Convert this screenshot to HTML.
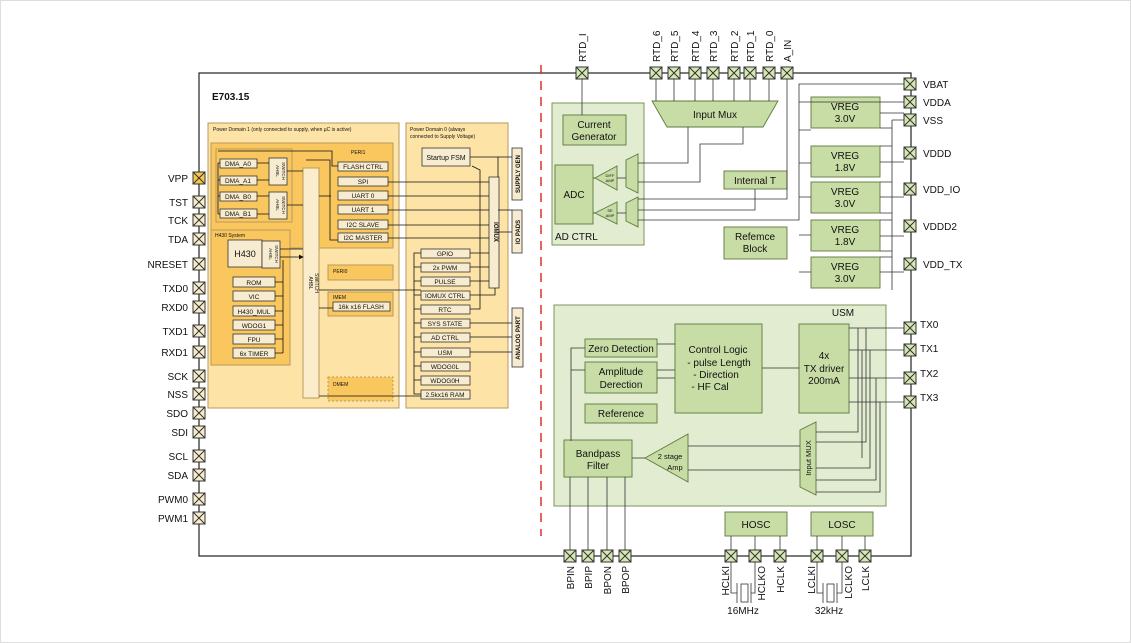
<!DOCTYPE html>
<html><head><meta charset="utf-8"><style>
html,body{margin:0;padding:0;background:#fff}
svg{display:block}
text{font-family:"Liberation Sans",sans-serif;fill:#111}
</style></head><body>
<svg width="1131" height="643" viewBox="0 0 1131 643" xmlns="http://www.w3.org/2000/svg">
<defs>
<g id="pg"><rect x="-6" y="-6" width="12" height="12" fill="#d6e6b4" stroke="#333" stroke-width="1"/><path d="M-6,-6L6,6M6,-6L-6,6" stroke="#333" stroke-width="1"/></g>
<g id="pc"><rect x="-6" y="-6" width="12" height="12" fill="#f7eccc" stroke="#333" stroke-width="1"/><path d="M-6,-6L6,6M6,-6L-6,6" stroke="#333" stroke-width="1"/></g>
<g id="py"><rect x="-6" y="-6" width="12" height="12" fill="#f6c84a" stroke="#333" stroke-width="1"/><path d="M-6,-6L6,6M6,-6L-6,6" stroke="#333" stroke-width="1"/></g>
<marker id="ar" markerWidth="6" markerHeight="6" refX="5" refY="3" orient="auto"><path d="M0,0L6,3L0,6z" fill="#111"/></marker>
</defs>
<rect x="0.5" y="0.5" width="1130" height="642" fill="#fff" stroke="#ddd"/>
<!-- chip outline -->
<rect x="199" y="73" width="712" height="483" fill="#fff" stroke="#222" stroke-width="1.2"/>
<line x1="541" y1="65" x2="541" y2="536" stroke="#e03030" stroke-width="1.5" stroke-dasharray="9,7"/>
<text x="212" y="100" font-size="10" font-weight="bold">E703.15</text>

<!-- Power domains -->
<g stroke="#b89a5e" stroke-width="1">
<rect x="208" y="123" width="191" height="285" fill="#fde3a6"/>
<rect x="406" y="123" width="102" height="285" fill="#fde3a6"/>
<rect x="211" y="143" width="182" height="105" fill="#f9c75e"/>
<rect x="216" y="149" width="76" height="73" fill="#f9c75e"/>
<rect x="211" y="230" width="79" height="135" fill="#f9c75e"/>
<rect x="328" y="265" width="65" height="15" fill="#f9c75e"/>
<rect x="328" y="292" width="65" height="24" fill="#f9c75e"/>
<rect x="328" y="377" width="65" height="24" fill="#f9c75e" stroke-dasharray="2,2"/>
<rect x="303" y="168" width="16" height="230" fill="#fbeccb"/>
</g>
<text x="213" y="131" font-size="5">Power Domain 1 (only connected to supply, when µC is active)</text>
<text x="410" y="131" font-size="5">Power Domain 0 (always</text>
<text x="410" y="138" font-size="5">connected to Supply Voltage)</text>
<text x="351" y="154" font-size="5">PERI1</text>
<text x="215" y="237" font-size="5">H430 System</text>
<text x="333" y="273" font-size="5">PERI0</text>
<text x="333" y="299" font-size="5">IMEM</text>
<text x="333" y="386" font-size="5">DMEM</text>
<text transform="translate(309,283) rotate(90)" font-size="5" text-anchor="middle">AHBL</text>
<text transform="translate(315,283) rotate(90)" font-size="5" text-anchor="middle">SWITCH</text>

<!-- cream blocks -->
<g fill="#f8ecd0" stroke="#333" stroke-width="0.8">
<rect x="220" y="159" width="37" height="9"/><rect x="220" y="176" width="37" height="9"/>
<rect x="220" y="192" width="37" height="9"/><rect x="220" y="209" width="37" height="9"/>
<rect x="269" y="158" width="18" height="27"/><rect x="269" y="192" width="18" height="27"/>
<rect x="228" y="240" width="34" height="27"/><rect x="262" y="241" width="18" height="27"/>
<rect x="233" y="277" width="42" height="10"/><rect x="233" y="291" width="42" height="10"/>
<rect x="233" y="306" width="42" height="10"/><rect x="233" y="320" width="42" height="10"/>
<rect x="233" y="334" width="42" height="10"/><rect x="233" y="348" width="42" height="10"/>
<rect x="338" y="162" width="50" height="9"/><rect x="338" y="177" width="50" height="9"/>
<rect x="338" y="191" width="50" height="9"/><rect x="338" y="205" width="50" height="9"/>
<rect x="338" y="220" width="50" height="9"/><rect x="338" y="233" width="50" height="9"/>
<rect x="333" y="302" width="57" height="9"/>
<rect x="422" y="148" width="48" height="18"/>
<rect x="489" y="177" width="10" height="111"/>
<rect x="421" y="249" width="49" height="9"/><rect x="421" y="263" width="49" height="9"/>
<rect x="421" y="277" width="49" height="9"/><rect x="421" y="291" width="49" height="9"/>
<rect x="421" y="305" width="49" height="9"/><rect x="421" y="319" width="49" height="9"/>
<rect x="421" y="333" width="49" height="9"/><rect x="421" y="348" width="49" height="9"/>
<rect x="421" y="362" width="49" height="9"/><rect x="421" y="376" width="49" height="9"/>
<rect x="421" y="390" width="49" height="9"/>
<rect x="512" y="148" width="10" height="52"/><rect x="512" y="210" width="10" height="43"/>
<rect x="512" y="308" width="11" height="59"/>
</g>
<g font-size="6.5" text-anchor="middle">
<text x="238" y="166">DMA_A0</text><text x="238" y="183">DMA_A1</text>
<text x="238" y="199">DMA_B0</text><text x="238" y="216">DMA_B1</text>
<text x="245" y="257" font-size="9">H430</text>
<text x="254" y="285">ROM</text><text x="254" y="299">VIC</text><text x="254" y="314">H430_MUL</text>
<text x="254" y="328">WDOG1</text><text x="254" y="342">FPU</text><text x="254" y="356">6x TIMER</text>
<text x="363" y="169">FLASH CTRL</text><text x="363" y="184">SPI</text><text x="363" y="198">UART 0</text>
<text x="363" y="212">UART 1</text><text x="363" y="227">I2C SLAVE</text><text x="363" y="240">I2C MASTER</text>
<text x="361" y="309">16k x16 FLASH</text>
<text x="446" y="160" font-size="7">Startup FSM</text>
<text x="445" y="256">GPIO</text><text x="445" y="270">2x PWM</text><text x="445" y="284">PULSE</text>
<text x="445" y="298">IOMUX CTRL</text><text x="445" y="312">RTC</text><text x="445" y="326">SYS STATE</text>
<text x="445" y="340">AD CTRL</text><text x="445" y="355">USM</text><text x="445" y="369">WDOG0L</text>
<text x="445" y="383">WDOG0H</text><text x="445" y="397">2.5kx16 RAM</text>
</g>
<g font-size="4.5" text-anchor="middle">
<text transform="translate(276,171) rotate(90)">AHBL</text><text transform="translate(282,171) rotate(90)">SWITCH</text>
<text transform="translate(276,205) rotate(90)">AHBL</text><text transform="translate(282,205) rotate(90)">SWITCH</text>
<text transform="translate(269,254) rotate(90)">AHBL</text><text transform="translate(275,254) rotate(90)">SWITCH</text>
</g>
<g font-size="6" text-anchor="middle" font-weight="bold">
<text transform="translate(494,232) rotate(90)">IOMUX</text>
<text transform="translate(520,174) rotate(-90)">SUPPLY GEN</text>
<text transform="translate(520,232) rotate(-90)">IO PADS</text>
<text transform="translate(520,338) rotate(-90)">ANALOG PART</text>
</g>
<!-- orange-area wires -->
<g stroke="#111" stroke-width="0.8" fill="none">
<path d="M257,163H269M257,180H269M257,196H269M257,214H269"/>
<path d="M218,163V214M218,163H220M218,180H220M218,196H220M218,214H220"/>
<path d="M287,171H303M287,205H303M280,249H303M280,257H303" marker-end="url(#ar)"/>
<path d="M275,282H283M275,296H283M275,311H283M275,325H283M275,339H283M275,353H283M283,260V353"/>
<path d="M218,151H332V166H338M306,160H330V240H338"/>
<path d="M319,196H331"/>
<path d="M388,182H489M388,196H489M388,210H489M388,225H489M388,238H489"/>
<path d="M470,157H512M470,157H498V177"/>
<path d="M470,253H489M470,267H489M470,281H489M495,288V295H470"/>
<path d="M470,309H480V170L472,166"/>
<path d="M470,323H512M470,337H512M470,352H512"/>
<path d="M319,290H421M319,308H333M319,396H421"/>
<path d="M421,253H414V394H421M414,267H421M414,281H421M414,295H421M414,309H421M414,323H421M414,337H421M414,352H421M414,366H421M414,380H421"/>
<path d="M498,210H512M498,232H512"/>
</g>

<!-- green right side -->
<g stroke="#6f8a4d" stroke-width="0.9">
<rect x="552" y="103" width="92" height="142" fill="#e2ecd1"/>
<rect x="554" y="305" width="332" height="201" fill="#e2ecd1"/>
</g>
<g fill="#c8dca5" stroke="#5d7a3e" stroke-width="0.9">
<rect x="563" y="115" width="63" height="30"/>
<rect x="555" y="165" width="38" height="59"/>
<path d="M617,166L595,178L617,190z"/><path d="M617,202L595,213L617,224z"/>
<path d="M626,160L638,154V193L626,187z"/><path d="M626,203L638,197V227L626,221z"/>
<path d="M652,101H778L763,127H667z"/>
<rect x="724" y="171" width="63" height="18"/>
<rect x="724" y="227" width="63" height="32"/>
<rect x="811" y="97" width="69" height="31"/><rect x="811" y="146" width="69" height="31"/>
<rect x="811" y="182" width="69" height="31"/><rect x="811" y="220" width="69" height="31"/>
<rect x="811" y="257" width="69" height="31"/>
<rect x="585" y="339" width="72" height="18"/><rect x="585" y="362" width="72" height="31"/>
<rect x="585" y="404" width="72" height="19"/>
<rect x="675" y="324" width="87" height="89"/>
<rect x="799" y="324" width="50" height="89"/>
<path d="M800,430L816,422V495L800,487z"/>
<path d="M688,434L645,458L688,482z"/>
<rect x="564" y="440" width="68" height="37"/>
<rect x="725" y="512" width="62" height="24"/><rect x="811" y="512" width="62" height="24"/>
</g>
<g font-size="10" text-anchor="middle">
<text x="594" y="128">Current</text><text x="594" y="140">Generator</text>
<text x="574" y="198">ADC</text>
<text x="555" y="240" text-anchor="start">AD CTRL</text>
<text x="715" y="118">Input Mux</text>
<text x="755" y="184">Internal T</text>
<text x="755" y="240">Refemce</text><text x="755" y="252">Block</text>
<text x="845" y="110">VREG</text><text x="845" y="122">3.0V</text>
<text x="845" y="159">VREG</text><text x="845" y="171">1.8V</text>
<text x="845" y="195">VREG</text><text x="845" y="207">3.0V</text>
<text x="845" y="233">VREG</text><text x="845" y="245">1.8V</text>
<text x="845" y="270">VREG</text><text x="845" y="282">3.0V</text>
<text x="843" y="316">USM</text>
<text x="621" y="352">Zero Detection</text>
<text x="621" y="375">Amplitude</text><text x="621" y="388">Derection</text>
<text x="621" y="417">Reference</text>
<text x="718" y="353">Control Logic</text>
<text x="719" y="366">- pulse Length</text>
<text x="716" y="378">- Direction</text>
<text x="710" y="390">- HF Cal</text>
<text x="824" y="359">4x</text><text x="824" y="372">TX driver</text><text x="824" y="384">200mA</text>
<text x="598" y="457">Bandpass</text><text x="598" y="469">Filter</text>
<text x="756" y="528">HOSC</text><text x="842" y="528">LOSC</text>
</g>
<g font-size="7.5" text-anchor="middle">
<text x="670" y="459">2 stage</text><text x="675" y="470">Amp</text>
<text transform="translate(811,458) rotate(-90)">Input MUX</text>
</g>
<g font-size="4" text-anchor="middle">
<text x="610" y="177">DIFF</text><text x="610" y="182">AMP</text>
<text x="610" y="212">SE</text><text x="610" y="217">AMP</text>
</g>
<!-- green-side wires -->
<g stroke="#333" stroke-width="0.8" fill="none">
<path d="M582,73V115"/>
<path d="M656,73V101M674,73V101M695,73V101M713,73V101M734,73V101M750,73V101M769,73V101"/>
<path d="M787,73V199H638"/>
<path d="M688,127V163H638M743,127V144H700V182H638"/>
<path d="M755,189V210H638M638,220H799V84H904"/>
<path d="M799,102H904M799,130H811M799,163H811M799,197H811M799,235H811M799,272H811"/>
<path d="M880,113H904M880,162H904M880,197H904M880,236H904M880,272H904"/>
<path d="M892,120H904M892,120V290M880,128H892M880,146H892M880,182H892M880,213H892M880,220H892M880,251H892M880,257H892"/>
<path d="M593,178H595M593,213H595M617,178H626M617,213H626"/>
<path d="M657,344H675M657,370H675M657,378H675M762,368H799"/>
<path d="M571,441V348H585M571,370H585"/>
<path d="M849,328H904M849,350H904M849,378H904M849,402H904"/>
<path d="M858,328V432H816M866,328V442H816M870,350V468H816M876,378V480H816M880,402V492H816M862,350V458"/>
<path d="M688,446H800M688,470H800M645,458H632"/>
<path d="M570,477V556M588,477V556M607,477V556M625,477V556"/>
<path d="M731,536V556M755,536V556M780,536V556M817,536V556M842,536V556M865,536V556"/>
<path d="M731,562V593H737M755,562V593H751M817,562V593H823M842,562V593H837"/>
<path d="M737,583V603M751,583V603M823,583V603M837,583V603"/>
</g>
<rect x="741" y="584" width="7" height="18" fill="#fff" stroke="#333" stroke-width="0.8"/>
<rect x="827" y="584" width="7" height="18" fill="#fff" stroke="#333" stroke-width="0.8"/>
<text x="743" y="614" font-size="10" text-anchor="middle">16MHz</text>
<text x="829" y="614" font-size="10" text-anchor="middle">32kHz</text>

<!-- pins -->
<use href="#py" x="199" y="178"/>
<use href="#pc" x="199" y="202"/><use href="#pc" x="199" y="220"/><use href="#pc" x="199" y="239"/>
<use href="#pc" x="199" y="264"/><use href="#pc" x="199" y="288"/><use href="#pc" x="199" y="307"/>
<use href="#pc" x="199" y="331"/><use href="#pc" x="199" y="352"/><use href="#pc" x="199" y="376"/>
<use href="#pc" x="199" y="394"/><use href="#pc" x="199" y="413"/><use href="#pc" x="199" y="432"/>
<use href="#pc" x="199" y="456"/><use href="#pc" x="199" y="475"/><use href="#pc" x="199" y="499"/>
<use href="#pc" x="199" y="518"/>
<g font-size="10" text-anchor="end">
<text x="188" y="182">VPP</text><text x="188" y="206">TST</text><text x="188" y="224">TCK</text>
<text x="188" y="243">TDA</text><text x="188" y="268">NRESET</text><text x="188" y="292">TXD0</text>
<text x="188" y="311">RXD0</text><text x="188" y="335">TXD1</text><text x="188" y="356">RXD1</text>
<text x="188" y="380">SCK</text><text x="188" y="398">NSS</text><text x="188" y="417">SDO</text>
<text x="188" y="436">SDI</text><text x="188" y="460">SCL</text><text x="188" y="479">SDA</text>
<text x="188" y="503">PWM0</text><text x="188" y="522">PWM1</text>
</g>
<use href="#pg" x="582" y="73"/><use href="#pg" x="656" y="73"/><use href="#pg" x="674" y="73"/>
<use href="#pg" x="695" y="73"/><use href="#pg" x="713" y="73"/><use href="#pg" x="734" y="73"/>
<use href="#pg" x="750" y="73"/><use href="#pg" x="769" y="73"/><use href="#pg" x="787" y="73"/>
<g font-size="10">
<text transform="translate(586,62) rotate(-90)">RTD_I</text>
<text transform="translate(660,62) rotate(-90)">RTD_6</text><text transform="translate(678,62) rotate(-90)">RTD_5</text>
<text transform="translate(699,62) rotate(-90)">RTD_4</text><text transform="translate(717,62) rotate(-90)">RTD_3</text>
<text transform="translate(738,62) rotate(-90)">RTD_2</text><text transform="translate(754,62) rotate(-90)">RTD_1</text>
<text transform="translate(773,62) rotate(-90)">RTD_0</text><text transform="translate(791,62) rotate(-90)">A_IN</text>
</g>
<use href="#pg" x="910" y="84"/><use href="#pg" x="910" y="102"/><use href="#pg" x="910" y="120"/>
<use href="#pg" x="910" y="153"/><use href="#pg" x="910" y="189"/><use href="#pg" x="910" y="226"/>
<use href="#pg" x="910" y="264"/>
<use href="#pg" x="910" y="328"/><use href="#pg" x="910" y="350"/><use href="#pg" x="910" y="378"/>
<use href="#pg" x="910" y="402"/>
<g font-size="10">
<text x="923" y="88">VBAT</text><text x="923" y="106">VDDA</text><text x="923" y="124">VSS</text>
<text x="923" y="157">VDDD</text><text x="923" y="193">VDD_IO</text><text x="923" y="230">VDDD2</text>
<text x="923" y="268">VDD_TX</text>
<text x="920" y="328">TX0</text><text x="920" y="352">TX1</text><text x="920" y="377">TX2</text>
<text x="920" y="401">TX3</text>
</g>
<use href="#pg" x="570" y="556"/><use href="#pg" x="588" y="556"/><use href="#pg" x="607" y="556"/>
<use href="#pg" x="625" y="556"/>
<use href="#pg" x="731" y="556"/><use href="#pg" x="755" y="556"/><use href="#pg" x="780" y="556"/>
<use href="#pg" x="817" y="556"/><use href="#pg" x="842" y="556"/><use href="#pg" x="865" y="556"/>
<g font-size="10" text-anchor="end">
<text transform="translate(574,566) rotate(-90)">BPIN</text><text transform="translate(592,566) rotate(-90)">BPIP</text>
<text transform="translate(611,566) rotate(-90)">BPON</text><text transform="translate(629,566) rotate(-90)">BPOP</text>
<text transform="translate(729,566) rotate(-90)">HCLKI</text><text transform="translate(765,566) rotate(-90)">HCLKO</text>
<text transform="translate(784,566) rotate(-90)">HCLK</text>
<text transform="translate(815,566) rotate(-90)">LCLKI</text><text transform="translate(852,566) rotate(-90)">LCLKO</text>
<text transform="translate(869,566) rotate(-90)">LCLK</text>
</g>
</svg>
</body></html>
